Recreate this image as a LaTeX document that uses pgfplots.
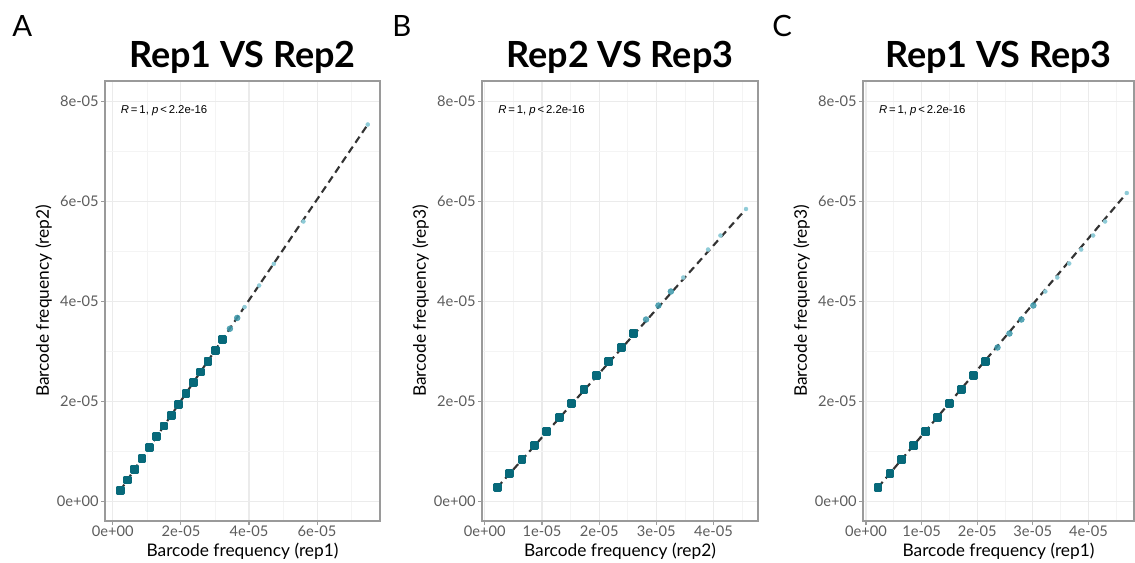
\documentclass[border=0pt]{standalone}
\usepackage{fontspec}
\setmainfont{Lato}
\newfontfamily\helv{Liberation Sans}
\usepackage{pgfplots}
\pgfplotsset{compat=1.18}

\definecolor{dk}{HTML}{07697A}
\definecolor{md}{HTML}{3D98AA}
\definecolor{lt}{HTML}{8ECBD7}
\definecolor{lineg}{HTML}{333333}
\definecolor{border}{HTML}{9A9A9A}
\definecolor{gridmaj}{HTML}{EBEBEB}
\definecolor{gridmin}{HTML}{F4F4F4}
\definecolor{tickgray}{HTML}{5C5C5C}

% 1px of the reference = 0.75pt
\pgfplotsset{
  repax/.style={
    scale only axis, height=330pt,
    ymin=-0.39e-5, ymax=8.41e-5,
    ytick={0,2e-5,4e-5,6e-5,8e-5},
    yticklabels={0e+00,2e-05,4e-05,6e-05,8e-05},
    minor ytick={1e-5,3e-5,5e-5,7e-5},
    scaled ticks=false,
    grid=both,
    major grid style={color=gridmaj, line width=0.8pt},
    minor grid style={color=gridmin, line width=0.5pt},
    axis line style={color=border, line width=0.8pt},
    tick pos=left, tick align=outside,
    major tick length=3pt, minor tick length=0pt,
    tick style={color=border, line width=0.8pt},
    ticklabel style={font=\fontsize{11}{12}\selectfont, text=tickgray},
    xticklabel style={inner sep=0.8pt},
    yticklabel style={inner sep=1.5pt},
    /pgf/number format/assume math mode=true,
    label style={font=\fontsize{13}{14}\selectfont},
    xlabel style={at={(axis description cs:0.5,0)}, anchor=center, yshift=-22.5pt},
    ylabel style={at={(axis description cs:0,0.5)}, anchor=center, yshift=46pt},
    title style={at={(axis description cs:0.5,1)}, anchor=base, yshift=4pt,
                 font=\bfseries\fontsize{27}{29}\selectfont},
  },
  dkpt/.style={only marks, mark=square*, mark size=2.3pt,
    mark options={fill=dk, draw=dk, line width=2pt, line join=round}},
  mdpt/.style={only marks, mark=*, mark size=2.2pt,
    mark options={fill=md, draw=md, line width=0.4pt, opacity=0.85}},
  ltpt/.style={only marks, mark=*, mark size=1.5pt,
    mark options={fill=lt, draw=lt, line width=0.3pt}},
  fitline/.style={color=lineg, line width=1.6pt, dash pattern=on 5.5pt off 3.5pt},
}
\newcommand{\corlab}{{\helv\fontsize{8.5}{9}\selectfont\textit{R}\,=\,1, \textit{p}\,<\,2.2e-16}}
\tikzset{panlab/.style={anchor=base west, inner sep=0pt, font=\fontsize{22}{23}\selectfont}}

\begin{document}
\begin{tikzpicture}
\path[use as bounding box] (0,0) rectangle (851.25pt,421.5pt);

\node[panlab] at (9pt,393.75pt) {A};
\node[panlab] at (294pt,393.75pt) {B};
\node[panlab] at (579pt,393.75pt) {C};

% ---- A: rep1 vs rep2
\begin{axis}[repax, at={(78.75pt,30.75pt)}, width=206.25pt,
  xmin=-0.23e-5, xmax=7.85e-5,
  xtick={0,2e-5,4e-5,6e-5}, xticklabels={0e+00,2e-05,4e-05,6e-05},
  minor xtick={1e-5,3e-5,5e-5,7e-5},
  title={Rep1 VS Rep2},
  xlabel={Barcode frequency (rep1)}, ylabel={Barcode frequency (rep2)}]
\addplot[dkpt] coordinates {
  (0.215e-5,0.216e-5) (0.430e-5,0.432e-5) (0.645e-5,0.648e-5) (0.860e-5,0.864e-5)
  (1.075e-5,1.080e-5) (1.290e-5,1.296e-5) (1.505e-5,1.512e-5) (1.720e-5,1.728e-5)
  (1.935e-5,1.944e-5) (2.150e-5,2.160e-5) (2.365e-5,2.376e-5) (2.580e-5,2.592e-5)
  (2.795e-5,2.808e-5) (3.010e-5,3.024e-5) (3.225e-5,3.240e-5)};
\addplot[mdpt] coordinates {(3.440e-5,3.456e-5) (3.655e-5,3.672e-5)};
\addplot[ltpt] coordinates {
  (3.870e-5,3.888e-5) (4.300e-5,4.320e-5) (4.730e-5,4.752e-5)
  (5.600e-5,5.600e-5) (7.490e-5,7.540e-5)};
\addplot[fitline] coordinates {(0.215e-5,0.216e-5) (7.490e-5,7.540e-5)};
\node[anchor=west, inner sep=0pt] at (axis cs:0.23e-5,7.82e-5) {\corlab};
\end{axis}

% ---- B: rep2 vs rep3
\begin{axis}[repax, at={(361.5pt,30.75pt)}, width=207pt,
  xmin=-0.05e-5, xmax=4.78e-5,
  xtick={0,1e-5,2e-5,3e-5,4e-5}, xticklabels={0e+00,1e-05,2e-05,3e-05,4e-05},
  minor xtick={0.5e-5,1.5e-5,2.5e-5,3.5e-5,4.5e-5},
  title={Rep2 VS Rep3},
  xlabel={Barcode frequency (rep2)}, ylabel={Barcode frequency (rep3)}]
\addplot[dkpt] coordinates {
  (0.217e-5,0.280e-5) (0.434e-5,0.560e-5) (0.651e-5,0.840e-5) (0.868e-5,1.120e-5)
  (1.085e-5,1.400e-5) (1.302e-5,1.680e-5) (1.519e-5,1.960e-5) (1.736e-5,2.240e-5)
  (1.953e-5,2.520e-5) (2.170e-5,2.800e-5) (2.387e-5,3.080e-5) (2.604e-5,3.360e-5)};
\addplot[mdpt] coordinates {(2.821e-5,3.640e-5) (3.038e-5,3.920e-5) (3.255e-5,4.200e-5)};
\addplot[ltpt] coordinates {
  (3.472e-5,4.480e-5) (3.906e-5,5.040e-5) (4.123e-5,5.320e-5) (4.570e-5,5.850e-5)};
\addplot[fitline] coordinates {(0.217e-5,0.280e-5) (4.570e-5,5.850e-5)};
\node[anchor=west, inner sep=0pt] at (axis cs:0.23e-5,7.82e-5) {\corlab};
\end{axis}

% ---- C: rep1 vs rep3
\begin{axis}[repax, at={(647.25pt,30.75pt)}, width=203.25pt,
  xmin=-0.054e-5, xmax=4.82e-5,
  xtick={0,1e-5,2e-5,3e-5,4e-5}, xticklabels={0e+00,1e-05,2e-05,3e-05,4e-05},
  minor xtick={0.5e-5,1.5e-5,2.5e-5,3.5e-5,4.5e-5},
  title={Rep1 VS Rep3},
  xlabel={Barcode frequency (rep1)}, ylabel={Barcode frequency (rep3)}]
\addplot[dkpt] coordinates {
  (0.215e-5,0.280e-5) (0.430e-5,0.560e-5) (0.645e-5,0.840e-5) (0.860e-5,1.120e-5)
  (1.075e-5,1.400e-5) (1.290e-5,1.680e-5) (1.505e-5,1.960e-5) (1.720e-5,2.240e-5)
  (1.935e-5,2.520e-5) (2.150e-5,2.800e-5)};
\addplot[mdpt] coordinates {
  (2.365e-5,3.080e-5) (2.580e-5,3.360e-5) (2.795e-5,3.640e-5) (3.010e-5,3.920e-5)};
\addplot[ltpt] coordinates {
  (3.225e-5,4.200e-5) (3.440e-5,4.480e-5) (3.655e-5,4.760e-5) (3.870e-5,5.040e-5)
  (4.085e-5,5.320e-5) (4.300e-5,5.600e-5) (4.690e-5,6.170e-5)};
\addplot[fitline] coordinates {(0.215e-5,0.280e-5) (4.690e-5,6.170e-5)};
\node[anchor=west, inner sep=0pt] at (axis cs:0.23e-5,7.82e-5) {\corlab};
\end{axis}
\end{tikzpicture}
\end{document}
